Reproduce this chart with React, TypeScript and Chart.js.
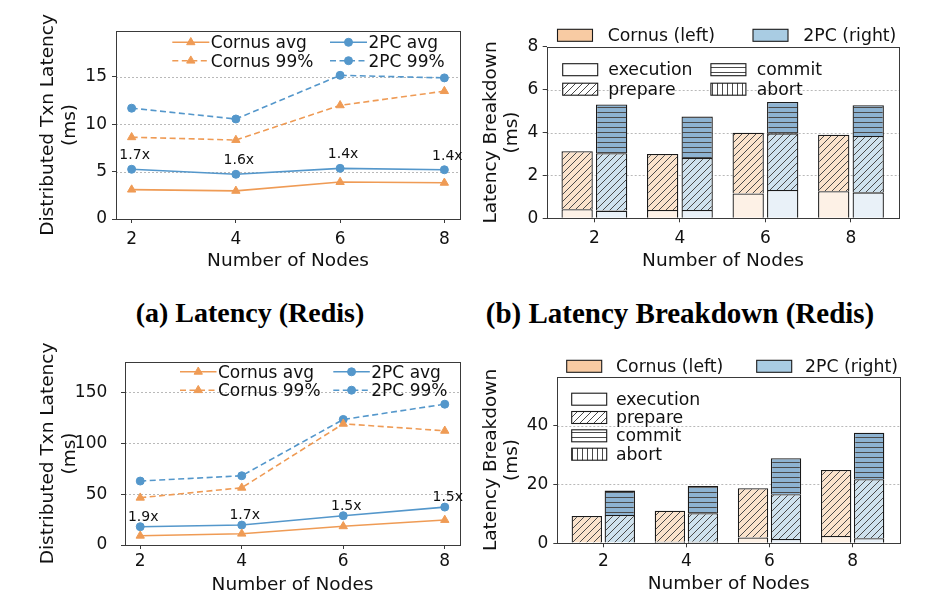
import React, { useEffect, useRef } from 'react';
import { Chart, registerables } from 'chart.js';
Chart.register(...registerables);

// ---------- data ----------
const nodes = [2, 4, 6, 8];

const lineLabels = ['Cornus avg', 'Cornus 99%', '2PC avg', '2PC 99%'];
const systemLabels = ['Cornus (left)', '2PC (right)'];
const segmentLabels = ['execution', 'prepare', 'commit', 'abort'];

// (a) Latency (Redis), ms
const redisCornusAvg = [3.1, 2.97, 3.9, 3.82];
const redisCornusP99 = [8.63, 8.34, 12.0, 13.5];
const redisTwoPcAvg = [5.25, 4.72, 5.35, 5.2];
const redisTwoPcP99 = [11.7, 10.56, 15.17, 14.9];
const redisSpeedup = ['1.7x', '1.6x', '1.4x', '1.4x'];

// lower-left latency, ms
const lowCornusAvg = [9.1, 11.1, 18.4, 24.6];
const lowCornusP99 = [46.5, 56.3, 119.2, 112.3];
const lowTwoPcAvg = [18.0, 19.6, 28.8, 37.3];
const lowTwoPcP99 = [62.9, 68.1, 123.5, 138.5];
const lowSpeedup = ['1.9x', '1.7x', '1.5x', '1.5x'];

// (b) Latency breakdown (Redis), ms per segment
const redisCornusExec = [0.42, 0.39, 1.16, 1.26];
const redisCornusPrepare = [2.71, 2.61, 2.83, 2.64];
const redisCornusCommit = [0, 0, 0, 0];
const redisCornusAbort = [0, 0, 0, 0];
const redisTwoPcExec = [0.36, 0.39, 1.32, 1.21];
const redisTwoPcPrepare = [2.67, 2.42, 2.64, 2.63];
const redisTwoPcCommit = [2.28, 1.94, 1.46, 1.43];
const redisTwoPcAbort = [0, 0, 0, 0];

// lower-right breakdown, ms per segment
const lowCornusExec = [0.3, 0.5, 2.0, 2.5];
const lowCornusPrepare = [9.0, 10.6, 16.7, 22.4];
const lowCornusCommit = [0, 0, 0, 0];
const lowCornusAbort = [0, 0, 0, 0];
const lowTwoPcExec = [0.3, 0.5, 1.5, 1.7];
const lowTwoPcPrepare = [9.3, 9.7, 15.2, 20.1];
const lowTwoPcCommit = [8.3, 9.3, 12.2, 15.8];
const lowTwoPcAbort = [0, 0, 0, 0];

// tick values
const redisLatencyTicks = [0, 5, 10, 15];
const lowLatencyTicks = [0, 50, 100, 150];
const redisBreakdownTicks = [0, 2, 4, 6, 8];
const lowBreakdownTicks = [0, 20, 40];

// ---------- style ----------
const FONT = '"DejaVu Sans", "Liberation Sans", sans-serif';
const TXT = '#111111';
const AXIS = '#3a3a3a';
const GRID = '#a8a8a8';
const EDGE = '#1a1a1a';
const ORANGE = '#EF9B55';
const BLUE = '#5497CB';
const CORNUS_PATCH = '#F8CBA3';
const TWOPC_PATCH = '#A9CCE3';
const CORNUS_FILL = { exec: '#FDF1E6', prepare: '#FBE3CC', commit: '#F6BE90', abort: '#F6BE90' };
const TWOPC_FILL = { exec: '#E9F1F8', prepare: '#CFE2EE', commit: '#8DB3D2', abort: '#8DB3D2' };
const HATCH = '#4a4a4a';
const TITLE_SIZE = 18.5;

type Area = { l: number; t: number; r: number; b: number };
type Geom = { yTitlePad: number; yTickPad: number; xTickPad: number; xTitlePad: number };

const font = (size: number, lh = 1.2) => ({ family: FONT, size, lineHeight: lh });

function makePattern(bg: string, kind: string): any {
  if (kind === 'none') return bg;
  const s = kind === 'diag' ? 7 : 5;
  const c = document.createElement('canvas');
  c.width = s;
  c.height = s;
  const g = c.getContext('2d')!;
  g.fillStyle = bg;
  g.fillRect(0, 0, s, s);
  g.strokeStyle = HATCH;
  g.lineWidth = 1;
  g.beginPath();
  if (kind === 'diag') {
    for (const o of [-s, 0, s]) {
      g.moveTo(o, s);
      g.lineTo(o + s, 0);
    }
  } else if (kind === 'horiz') {
    g.moveTo(0, 2.5);
    g.lineTo(s, 2.5);
  } else {
    g.moveTo(2.5, 0);
    g.lineTo(2.5, s);
  }
  g.stroke();
  return g.createPattern(c, 'repeat');
}

function makeScales(w: number, h: number, area: Area, xMin: number, xMax: number, yMax: number,
  yTicks: number[], yTitle: string[], g: Geom, stacked: boolean): any {
  return {
    x: {
      type: 'linear', min: xMin, max: xMax, offset: false, stacked,
      afterBuildTicks: (s: any) => { s.ticks = nodes.map((v) => ({ value: v })); },
      afterFit: (s: any) => { s.height = h - area.b; },
      ticks: { font: font(17), color: TXT, padding: g.xTickPad, autoSkip: false, maxRotation: 0, callback: (v: any) => String(v) },
      grid: { display: true, drawOnChartArea: false, drawTicks: true, tickLength: 4, tickColor: AXIS, tickWidth: 1, offset: false },
      border: { display: false },
      title: { display: true, text: 'Number of Nodes', font: font(TITLE_SIZE), color: TXT, padding: { top: 0, bottom: g.xTitlePad } },
    },
    y: {
      type: 'linear', min: 0, max: yMax, stacked,
      afterBuildTicks: (s: any) => { s.ticks = yTicks.map((v) => ({ value: v })); },
      afterFit: (s: any) => { s.width = area.l; },
      ticks: { font: font(17), color: TXT, padding: g.yTickPad, autoSkip: false, callback: (v: any) => String(v) },
      grid: { display: true, drawOnChartArea: false, drawTicks: true, tickLength: 4, tickColor: AXIS, tickWidth: 1 },
      border: { display: false },
      title: { display: true, text: yTitle, font: font(TITLE_SIZE, 1.17), color: TXT, padding: { top: g.yTitlePad, bottom: 0 } },
    },
  };
}

const gridFrame = (yTicks: number[]) => ({
  id: 'gridFrame',
  beforeDatasetsDraw(chart: any) {
    const { ctx, chartArea: a, scales } = chart;
    ctx.save();
    ctx.strokeStyle = GRID;
    ctx.lineWidth = 0.8;
    ctx.setLineDash([2, 2]);
    for (const v of yTicks) {
      if (v === 0) continue;
      const y = Math.round(scales.y.getPixelForValue(v)) + 0.5;
      ctx.beginPath();
      ctx.moveTo(a.left, y);
      ctx.lineTo(a.right, y);
      ctx.stroke();
    }
    ctx.restore();
  },
  afterDatasetsDraw(chart: any) {
    const { ctx, chartArea: a } = chart;
    ctx.save();
    ctx.strokeStyle = AXIS;
    ctx.lineWidth = 1;
    ctx.setLineDash([]);
    const l = Math.round(a.left), t = Math.round(a.top), r = Math.round(a.right), b = Math.round(a.bottom);
    ctx.strokeRect(l + 0.5, t + 0.5, r - l, b - t);
    ctx.restore();
  },
});

function drawMarker(ctx: CanvasRenderingContext2D, style: string, x: number, y: number, r: number, color: string) {
  ctx.save();
  ctx.fillStyle = color;
  ctx.strokeStyle = color;
  ctx.lineWidth = 1;
  ctx.setLineDash([]);
  ctx.beginPath();
  if (style === 'triangle') {
    let rad = 0;
    ctx.moveTo(x + Math.sin(rad) * r, y - Math.cos(rad) * r);
    rad += (2 * Math.PI) / 3;
    ctx.lineTo(x + Math.sin(rad) * r, y - Math.cos(rad) * r);
    rad += (2 * Math.PI) / 3;
    ctx.lineTo(x + Math.sin(rad) * r, y - Math.cos(rad) * r);
    ctx.closePath();
  } else {
    ctx.arc(x, y, r, 0, Math.PI * 2);
  }
  ctx.fill();
  ctx.stroke();
  ctx.restore();
}

type LinePanel = {
  w: number; h: number; area: Area; xMin: number; xMax: number; yMax: number; yTicks: number[];
  series: number[][]; ratios: string[]; ratioOffset: number; geom: Geom;
  legendCols: number[]; legendRows: number[]; handle: number;
};

function lineSet(label: string, vals: number[], color: string, dashed: boolean, marker: string) {
  return {
    label,
    data: nodes.map((n, i) => ({ x: n, y: vals[i] })),
    borderColor: color,
    backgroundColor: color,
    borderWidth: 1.6,
    borderDash: dashed ? [6, 3.5] : [],
    pointStyle: marker,
    pointRadius: marker === 'triangle' ? 4.8 : 4,
    pointBorderWidth: 1,
    pointBackgroundColor: color,
    pointBorderColor: color,
    tension: 0,
    fill: false,
  };
}

function buildLine(canvas: HTMLCanvasElement, p: LinePanel) {
  const colors = [ORANGE, ORANGE, BLUE, BLUE];
  const dashed = [false, true, false, true];
  const markers = ['triangle', 'triangle', 'circle', 'circle'];
  const datasets = lineLabels.map((lab, i) => lineSet(lab, p.series[i], colors[i], dashed[i], markers[i]));
  const extras = {
    id: 'lineExtras',
    afterDraw(chart: any) {
      const { ctx, scales } = chart;
      ctx.save();
      ctx.font = `14px ${FONT}`;
      ctx.fillStyle = TXT;
      ctx.textAlign = 'center';
      ctx.textBaseline = 'middle';
      p.ratios.forEach((t, i) => {
        const x = scales.x.getPixelForValue(nodes[i]) + 3;
        const y = scales.y.getPixelForValue(p.series[2][i]) - p.ratioOffset;
        ctx.fillText(t, x, y);
      });
      chart.data.datasets.forEach((ds: any, i: number) => {
        const col = Math.floor(i / 2), row = i % 2;
        const x0 = p.legendCols[col], x1 = x0 + p.handle, y = p.legendRows[row];
        ctx.strokeStyle = ds.borderColor;
        ctx.lineWidth = ds.borderWidth;
        ctx.setLineDash(ds.borderDash);
        ctx.beginPath();
        ctx.moveTo(x0, y);
        ctx.lineTo(x1, y);
        ctx.stroke();
        ctx.setLineDash([]);
        drawMarker(ctx, ds.pointStyle, (x0 + x1) / 2, y, ds.pointRadius, ds.borderColor);
        ctx.font = `17px ${FONT}`;
        ctx.fillStyle = TXT;
        ctx.textAlign = 'left';
        ctx.textBaseline = 'middle';
        ctx.fillText(ds.label, x1 + 1.5, y + 1.5);
      });
      ctx.restore();
    },
  };
  return new Chart(canvas, {
    type: 'line',
    data: { datasets } as any,
    options: {
      responsive: false, animation: false, devicePixelRatio: 1,
      layout: { padding: { left: 0, top: p.area.t, right: p.w - p.area.r, bottom: 0 } },
      plugins: { legend: { display: false }, tooltip: { enabled: false }, title: { display: false } },
      scales: makeScales(p.w, p.h, p.area, p.xMin, p.xMax, p.yMax, p.yTicks,
        ['Distributed Txn Latency', '(ms)'], p.geom, false),
    } as any,
    plugins: [gridFrame(p.yTicks), extras] as any,
  });
}

type BarPanel = {
  w: number; h: number; area: Area; xMin: number; xMax: number; yMax: number; yTicks: number[];
  cornus: number[][]; twoPc: number[][]; geom: Geom; catPct: number; barPct: number;
  outerX: number[]; outerTextX: number[]; outerY: number;
  innerX: number[]; innerTextX: number[]; innerRows: number[]; innerCols: number;
};

function buildBar(canvas: HTMLCanvasElement, p: BarPanel) {
  const kinds = ['none', 'diag', 'horiz', 'vert'];
  const keys: ('exec' | 'prepare' | 'commit' | 'abort')[] = ['exec', 'prepare', 'commit', 'abort'];
  const datasets: any[] = [];
  const groups: [string, number[][], any][] = [['cornus', p.cornus, CORNUS_FILL], ['twoPc', p.twoPc, TWOPC_FILL]];
  for (const [stack, vals, fills] of groups) {
    segmentLabels.forEach((lab, k) => {
      datasets.push({
        label: `${stack} ${lab}`,
        stack,
        data: nodes.map((n, i) => ({ x: n, y: vals[k][i] })),
        backgroundColor: makePattern(fills[keys[k]], kinds[k]),
        borderColor: EDGE,
        borderWidth: 1.3,
        borderSkipped: 'start',
      });
    });
  }
  const legendPatterns = kinds.map((k) => makePattern('#ffffff', k));
  const extras = {
    id: 'barExtras',
    afterDraw(chart: any) {
      const { ctx } = chart;
      ctx.save();
      ctx.font = `17.3px ${FONT}`;
      ctx.textAlign = 'left';
      ctx.textBaseline = 'middle';
      const box = (x: number, y: number, fill: any) => {
        ctx.fillStyle = fill;
        ctx.fillRect(x, y - 6, 35, 12);
        ctx.strokeStyle = EDGE;
        ctx.lineWidth = 1.1;
        ctx.strokeRect(x, y - 6, 35, 12);
      };
      systemLabels.forEach((lab, i) => {
        box(p.outerX[i], p.outerY, i === 0 ? CORNUS_PATCH : TWOPC_PATCH);
        ctx.fillStyle = TXT;
        ctx.fillText(lab, p.outerTextX[i], p.outerY + 1);
      });
      segmentLabels.forEach((lab, k) => {
        const col = p.innerCols === 2 ? Math.floor(k / 2) : 0;
        const row = p.innerCols === 2 ? k % 2 : k;
        const y = p.innerRows[row];
        box(p.innerX[col], y, legendPatterns[k]);
        ctx.fillStyle = TXT;
        ctx.fillText(lab, p.innerTextX[col], y + 1);
      });
      ctx.restore();
    },
  };
  return new Chart(canvas, {
    type: 'bar',
    data: { datasets },
    options: {
      responsive: false, animation: false, devicePixelRatio: 1,
      layout: { padding: { left: 0, top: p.area.t, right: p.w - p.area.r, bottom: 0 } },
      datasets: { bar: { categoryPercentage: p.catPct, barPercentage: p.barPct } },
      plugins: { legend: { display: false }, tooltip: { enabled: false }, title: { display: false } },
      scales: makeScales(p.w, p.h, p.area, p.xMin, p.xMax, p.yMax, p.yTicks,
        ['Latency Breakdown', '(ms)'], p.geom, true),
    } as any,
    plugins: [gridFrame(p.yTicks), extras] as any,
  });
}

function Panel({ x, y, w, h, build }: { x: number; y: number; w: number; h: number; build: (c: HTMLCanvasElement) => Chart }) {
  const ref = useRef<HTMLCanvasElement>(null);
  useEffect(() => {
    const chart = build(ref.current!);
    return () => chart.destroy();
  }, []);
  return (
    <canvas ref={ref} width={w} height={h}
      style={{ position: 'absolute', left: x, top: y, width: w, height: h, display: 'block' }} />
  );
}

const buildA = (c: HTMLCanvasElement) => buildLine(c, {
  w: 470, h: 285, area: { l: 116, t: 31, r: 460, b: 219 }, xMin: 1.7, xMax: 8.3, yMax: 19.85,
  yTicks: redisLatencyTicks,
  series: [redisCornusAvg, redisCornusP99, redisTwoPcAvg, redisTwoPcP99],
  ratios: redisSpeedup, ratioOffset: 13.8,
  geom: { yTitlePad: 37.5, yTickPad: 5, xTickPad: 6.1, xTitlePad: 12.8 },
  legendCols: [172.3, 330], legendRows: [42.3, 60.7], handle: 37,
});

const buildC = (c: HTMLCanvasElement) => buildLine(c, {
  w: 470, h: 272, area: { l: 125, t: 32, r: 460, b: 215 }, xMin: 1.7, xMax: 8.3, yMax: 180,
  yTicks: lowLatencyTicks,
  series: [lowCornusAvg, lowCornusP99, lowTwoPcAvg, lowTwoPcP99],
  ratios: lowSpeedup, ratioOffset: 9.8,
  geom: { yTitlePad: 37.5, yTickPad: 13.7, xTickPad: 2.6, xTitlePad: 5.7 },
  legendCols: [180, 333.3], legendRows: [41.8, 60.2], handle: 36.5,
});

const buildB = (c: HTMLCanvasElement) => buildBar(c, {
  w: 456, h: 285, area: { l: 76.7, t: 46.7, r: 429.3, b: 218.3 }, xMin: 0.885, xMax: 9.13, yMax: 8,
  yTicks: redisBreakdownTicks,
  cornus: [redisCornusExec, redisCornusPrepare, redisCornusCommit, redisCornusAbort],
  twoPc: [redisTwoPcExec, redisTwoPcPrepare, redisTwoPcCommit, redisTwoPcAbort],
  geom: { yTitlePad: 10, yTickPad: 4.4, xTickPad: 6, xTitlePad: 13.2 },
  catPct: 0.807, barPct: 0.907,
  outerX: [87.5, 283], outerTextX: [137.7, 333.3], outerY: 35.3,
  innerX: [92.7, 240.9], innerTextX: [138.3, 286.7], innerRows: [69.7, 89.2], innerCols: 2,
});

const buildD = (c: HTMLCanvasElement) => buildBar(c, {
  w: 456, h: 272, area: { l: 87.3, t: 46.7, r: 430, b: 213.3 }, xMin: 0.893, xMax: 9.14, yMax: 56.6,
  yTicks: lowBreakdownTicks,
  cornus: [lowCornusExec, lowCornusPrepare, lowCornusCommit, lowCornusAbort],
  twoPc: [lowTwoPcExec, lowTwoPcPrepare, lowTwoPcCommit, lowTwoPcAbort],
  geom: { yTitlePad: 10, yTickPad: 5, xTickPad: 4.3, xTitlePad: 6.3 },
  catPct: 0.794, barPct: 0.92,
  outerX: [96.7, 286.7], outerTextX: [146, 335], outerY: 36.3,
  innerX: [101.7, 101.7], innerTextX: [146, 146], innerRows: [69.2, 87.5, 105.8, 124.2], innerCols: 1,
});

const captionStyle = (cx: number, size: number): React.CSSProperties => ({
  position: 'absolute', left: cx - 250, width: 500, top: 298.6, textAlign: 'center',
  font: `bold ${size}px "Liberation Serif", "Times New Roman", serif`, lineHeight: '28px',
  whiteSpace: 'nowrap', color: '#000',
});

export default function App() {
  return (
    <div style={{ position: 'absolute', left: 0, top: 0, width: 926, height: 602, background: '#fff', overflow: 'hidden' }}>
      <Panel x={0} y={0} w={470} h={285} build={buildA} />
      <Panel x={470} y={0} w={456} h={285} build={buildB} />
      <Panel x={0} y={330} w={470} h={272} build={buildC} />
      <Panel x={470} y={330} w={456} h={272} build={buildD} />
      <div style={captionStyle(250, 28)}>(a) Latency (Redis)</div>
      <div style={captionStyle(680, 29)}>(b) Latency Breakdown (Redis)</div>
    </div>
  );
}
